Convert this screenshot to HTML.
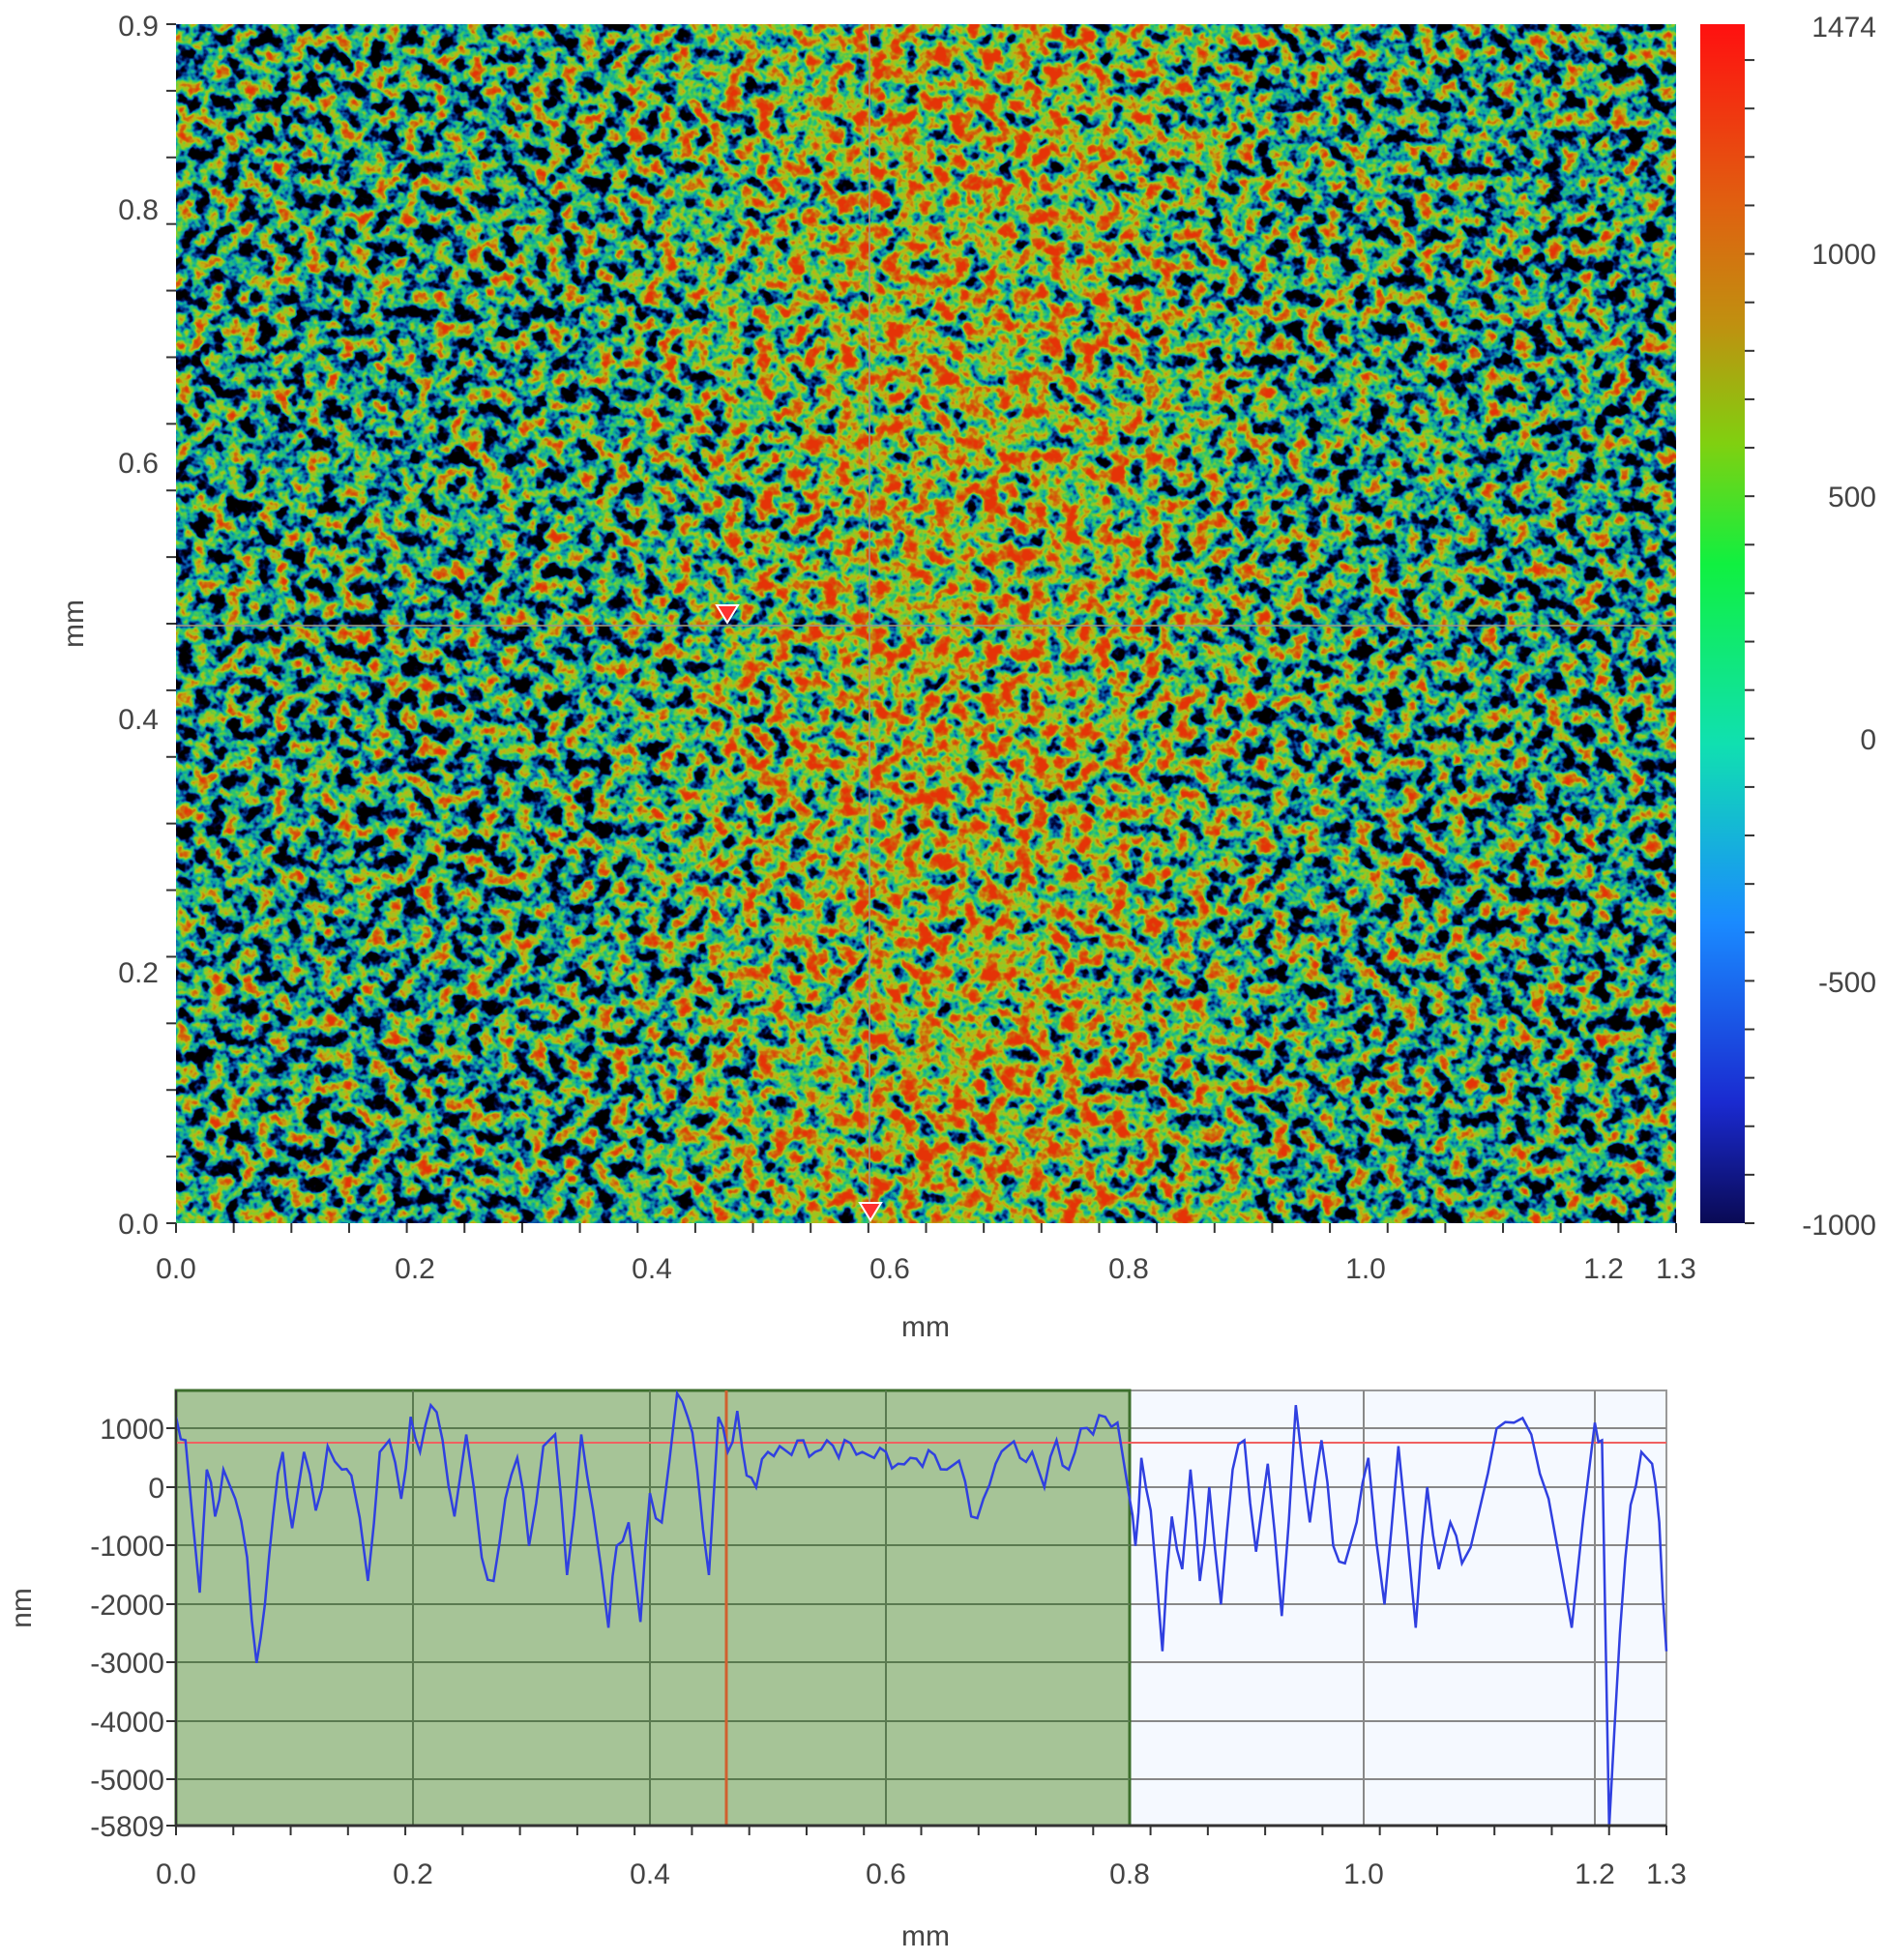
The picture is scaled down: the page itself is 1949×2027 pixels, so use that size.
<!DOCTYPE html>
<html><head><meta charset="utf-8"><style>
html,body{margin:0;padding:0;background:#fff;}
svg{display:block;}
text{font-family:"Liberation Sans",Arial,sans-serif;fill:#444;}
</style></head><body>
<svg id="s" width="1949" height="2027" viewBox="0 0 1949 2027" xmlns="http://www.w3.org/2000/svg">
<defs>
<linearGradient id="bias" x1="0" x2="1" y1="0" y2="0">
<stop offset="0" stop-color="#303030"/>
<stop offset="0.28" stop-color="#383838"/>
<stop offset="0.38" stop-color="#707070"/>
<stop offset="0.47" stop-color="#a0a0a0"/>
<stop offset="0.58" stop-color="#a0a0a0"/>
<stop offset="0.66" stop-color="#707070"/>
<stop offset="0.74" stop-color="#404040"/>
<stop offset="1" stop-color="#303030"/>
</linearGradient>
<filter id="tex" x="0" y="0" width="100%" height="100%" color-interpolation-filters="sRGB">
<feTurbulence type="fractalNoise" baseFrequency="0.06" numOctaves="3" seed="7" result="n0"/>
<feColorMatrix in="n0" type="matrix" values="1 0 0 0 0  1 0 0 0 0  1 0 0 0 0  0 0 0 0 1" result="n"/>
<feComposite in="n" in2="SourceGraphic" operator="arithmetic" k1="0" k2="2" k3="0.55" k4="-0.76" result="m"/>
<feColorMatrix in="m" type="matrix" values="1 0 0 0 0  1 0 0 0 0  1 0 0 0 0  0 0 0 0 1" result="g"/>
<feComponentTransfer in="g">
<feFuncR type="table" tableValues="0 0 0.02 0.05 0.2 0.55 0.75 0.8 0.85 0.9"/>
<feFuncG type="table" tableValues="0 0.03 0.3 0.65 0.78 0.8 0.7 0.45 0.3 0.2"/>
<feFuncB type="table" tableValues="0 0.25 0.65 0.65 0.4 0.15 0.08 0.05 0.04 0.03"/>
</feComponentTransfer>
</filter>
<linearGradient id="cb" x1="0" y1="1" x2="0" y2="0">
<stop offset="0" stop-color="#0a0a55"/>
<stop offset="0.1" stop-color="#1a2ad0"/>
<stop offset="0.25" stop-color="#1a8aff"/>
<stop offset="0.4" stop-color="#10e0b0"/>
<stop offset="0.55" stop-color="#10f040"/>
<stop offset="0.65" stop-color="#80d010"/>
<stop offset="0.75" stop-color="#c09010"/>
<stop offset="0.85" stop-color="#e06010"/>
<stop offset="1" stop-color="#ff1010"/>
</linearGradient>
</defs>

<rect x="182" y="25" width="1551" height="1240" fill="url(#bias)" filter="url(#tex)"/>
<line x1="182" y1="647" x2="1733" y2="647" stroke="#9a9a80" stroke-width="2" opacity="0.8"/>
<line x1="899" y1="25" x2="899" y2="1265" stroke="#9a9a80" stroke-width="2" opacity="0.8"/>
<polygon points="741,626 763,626 752,644" fill="#ff3030" stroke="#fff" stroke-width="2"/>
<polygon points="889,1244 911,1244 900,1262" fill="#ff3030" stroke="#fff" stroke-width="2"/>

<rect x="1758" y="25" width="46" height="1240" fill="url(#cb)"/>
<g id="cbt" stroke="#333" stroke-width="2"></g>
<g font-size="30" text-anchor="end">
<text x="1940" y="38">1474</text>
<text x="1940" y="273">1000</text>
<text x="1940" y="524">500</text>
<text x="1940" y="775">0</text>
<text x="1940" y="1026">-500</text>
<text x="1940" y="1277">-1000</text>
</g>

<g id="mapt" stroke="#333" stroke-width="2"></g>
<g font-size="30" text-anchor="end">
<text x="164" y="37">0.9</text>
<text x="164" y="227">0.8</text>
<text x="164" y="489">0.6</text>
<text x="164" y="754">0.4</text>
<text x="164" y="1016">0.2</text>
<text x="164" y="1276">0.0</text>
</g>
<g font-size="30" text-anchor="middle">
<text x="182" y="1322">0.0</text>
<text x="429" y="1322">0.2</text>
<text x="674" y="1322">0.4</text>
<text x="920" y="1322">0.6</text>
<text x="1167" y="1322">0.8</text>
<text x="1412" y="1322">1.0</text>
<text x="1658" y="1322">1.2</text>
<text x="1733" y="1322">1.3</text>
<text x="957" y="1382">mm</text>
<text x="0" y="0" transform="translate(86,645) rotate(-90)">mm</text>
</g>

<rect x="182" y="1438" width="1541" height="450" fill="#f5f9ff" stroke="#999" stroke-width="2"/>
<g id="grid" stroke="#888" stroke-width="2"></g>
<rect x="182" y="1438" width="986" height="450" fill="#a6c497" stroke="#3c6e2c" stroke-width="3"/>
<g id="grid2" stroke="#5a7a50" stroke-width="2"></g>
<line x1="182" y1="1492" x2="1723" y2="1492" stroke="#f06060" stroke-width="2"/>
<line x1="751" y1="1438" x2="751" y2="1888" stroke="#d06030" stroke-width="3"/>
<polyline id="prof" fill="none" stroke="#3040e0" stroke-width="2.5"/>
<line x1="182" y1="1888" x2="1723" y2="1888" stroke="#333" stroke-width="3"/>
<line x1="182" y1="1438" x2="182" y2="1888" stroke="#333" stroke-width="2"/>
<g id="pt" stroke="#333" stroke-width="2"></g>
<g font-size="30" text-anchor="end">
<text x="170" y="1488">1000</text>
<text x="170" y="1549">0</text>
<text x="170" y="1609">-1000</text>
<text x="170" y="1670">-2000</text>
<text x="170" y="1730">-3000</text>
<text x="170" y="1791">-4000</text>
<text x="170" y="1851">-5000</text>
<text x="170" y="1899">-5809</text>
</g>
<g font-size="30" text-anchor="middle">
<text x="182" y="1948">0.0</text>
<text x="427" y="1948">0.2</text>
<text x="672" y="1948">0.4</text>
<text x="916" y="1948">0.6</text>
<text x="1168" y="1948">0.8</text>
<text x="1410" y="1948">1.0</text>
<text x="1649" y="1948">1.2</text>
<text x="1723" y="1948">1.3</text>
<text x="957" y="2012">mm</text>
<text x="0" y="0" transform="translate(32,1663) rotate(-90)">nm</text>
</g>
</svg>
<script>
var NS="http://www.w3.org/2000/svg";
function L(g,x1,y1,x2,y2){var l=document.createElementNS(NS,"line");l.setAttribute("x1",x1);l.setAttribute("y1",y1);l.setAttribute("x2",x2);l.setAttribute("y2",y2);document.getElementById(g).appendChild(l);}
for(var i=0;i<=25;i++){var y=1265-i*(1240/24.74);if(y<25)break;L("cbt",1804,y,1814,y);}
for(var v=0;v<=0.9001;v+=0.05){var y=1265-v/0.9*1240;L("mapt",172,y,182,y);}
for(var v=0;v<=1.3001;v+=0.05){var x=182+v/1.3*1551;L("mapt",x,1265,x,1275);}
var ys=[1477,1538,1598,1659,1719,1780,1840];
var xs=[427,672,916,1168,1410,1649];
ys.forEach(function(y){L("grid",182,y,1723,y);});
xs.forEach(function(x){L("grid",x,1438,x,1888);});
ys.forEach(function(y){L("grid2",182,y,1168,y);});
[427,672,916].forEach(function(x){L("grid2",x,1438,x,1888);});
ys.concat([1888]).forEach(function(y){L("pt",172,y,182,y);});
for(var k=0;k<=26;k++){var x=182+k*(1541/26);L("pt",x,1888,x,1898);}
var kn=[[0,182],[0.2,427],[0.4,672],[0.6,916],[0.8,1168],[1.0,1410],[1.2,1649],[1.3,1723]];
function mx(m){for(var i=0;i<kn.length-1;i++){if(m<=kn[i+1][0]){var a=kn[i],b=kn[i+1];return a[1]+(m-a[0])/(b[0]-a[0])*(b[1]-a[1]);}}return 1723;}
function vy(v){return 1538-v*0.0606;}
var d=[[0,1200],[0.008,800],[0.02,-1800],[0.026,300],[0.033,-500],[0.04,300],[0.05,-200],[0.06,-1200],[0.068,-3000],[0.075,-2000],[0.082,-500],[0.09,600],[0.098,-700],[0.108,600],[0.118,-400],[0.128,700],[0.14,300],[0.148,200],[0.162,-1600],[0.172,600],[0.18,800],[0.19,-200],[0.198,1200],[0.206,600],[0.215,1400],[0.225,800],[0.235,-500],[0.245,900],[0.258,-1200],[0.268,-1600],[0.278,-200],[0.288,500],[0.298,-1000],[0.31,700],[0.32,900],[0.33,-1500],[0.342,900],[0.352,-400],[0.365,-2400],[0.372,-1000],[0.382,-600],[0.392,-2300],[0.4,-100],[0.41,-600],[0.423,1600],[0.432,1200],[0.44,300],[0.45,-1500],[0.458,1200],[0.466,600],[0.474,1300],[0.482,200],[0.49,0],[0.5,600],[0.51,700],[0.52,550],[0.53,800],[0.54,600],[0.55,800],[0.56,500],[0.57,750],[0.58,600],[0.59,500],[0.6,600],[0.61,400],[0.62,500],[0.63,350],[0.64,550],[0.65,300],[0.66,450],[0.67,-500],[0.68,-200],[0.69,400],[0.7,700],[0.71,500],[0.72,600],[0.73,0],[0.74,800],[0.75,300],[0.76,1000],[0.77,900],[0.78,1200],[0.79,1100],[0.8,-200],[0.805,-1000],[0.81,500],[0.818,-400],[0.828,-2800],[0.836,-500],[0.845,-1400],[0.852,300],[0.86,-1600],[0.868,0],[0.878,-2000],[0.888,300],[0.898,800],[0.908,-1100],[0.918,400],[0.93,-2200],[0.942,1400],[0.954,-600],[0.964,800],[0.974,-1000],[0.984,-1300],[0.994,-600],[1.004,500],[1.018,-2000],[1.03,700],[1.045,-2400],[1.055,0],[1.065,-1400],[1.075,-600],[1.085,-1300],[1.1,-400],[1.115,1000],[1.13,1100],[1.145,900],[1.16,-200],[1.18,-2400],[1.2,1100],[1.21,800],[1.22,-5809],[1.235,-2500],[1.25,-300],[1.265,600],[1.28,400],[1.29,-600],[1.3,-2800]];
var pts=[];
for(var i=0;i<d.length;i++){pts.push(mx(d[i][0]).toFixed(1)+","+vy(d[i][1]).toFixed(1));
 if(i<d.length-1){var a=d[i],b=d[i+1];var m=(a[0]+b[0])/2,v=(a[1]+b[1])/2+((i*37)%7-3)*60;pts.push(mx(m).toFixed(1)+","+vy(v).toFixed(1));}}
document.getElementById("prof").setAttribute("points",pts.join(" "));
</script>
</body></html>
